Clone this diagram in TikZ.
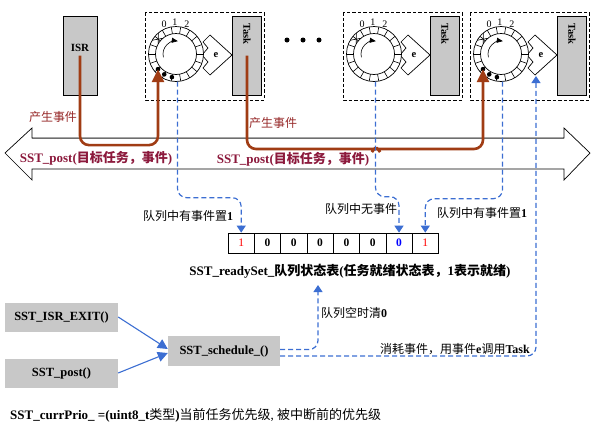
\documentclass[tikz,border=0pt]{standalone}
\usepackage{fontspec}
\setmainfont{Liberation Serif}
\newfontfamily\zh{Noto Sans CJK SC}
\usetikzlibrary{arrows.meta,calc}
\definecolor{boxgray}{RGB}{200,200,200}
\definecolor{rust}{RGB}{160,60,20}
\definecolor{postred}{RGB}{140,25,60}
\definecolor{evred}{RGB}{150,40,40}
\definecolor{dblue}{RGB}{60,110,210}
\definecolor{lgray}{RGB}{110,110,110}
\begin{document}
\begin{tikzpicture}[x=1pt,y=-1pt,
  graybox/.style={fill=boxgray, draw=black, line width=0.6pt, inner sep=0},
  flatbox/.style={fill=boxgray, inner sep=0, minimum width=113pt, minimum height=29pt, font=\fontsize{12.5}{14}\selectfont\bfseries},
  cell/.style={draw, line width=0.7pt, minimum width=26.3pt, minimum height=20pt, inner sep=0, font=\fontsize{11.5}{12}\selectfont\bfseries},
  rustline/.style={draw=rust, line width=2.6pt, rounded corners=9pt, -{Triangle[length=13pt,width=12pt]}},
  bluedash/.style={draw=dblue, line width=1.2pt, dash pattern=on 5pt off 3pt, rounded corners=9pt, -{Triangle[length=7pt,width=9pt]}},
  bluesolid/.style={draw=dblue, line width=1.1pt, -{Triangle[length=10pt,width=10pt]}},
  lbl/.style={font=\fontsize{12}{13}\selectfont, inner sep=0},
  bigtxt/.style={font=\fontsize{13}{14}\selectfont\bfseries, inner sep=0},
]
\useasboundingbox (0,0) rectangle (598,434);

% ISR box
\node[graybox, minimum width=34pt, minimum height=79pt] (isr) at (80,55.5) {};
\node[font=\fontsize{11}{12}\selectfont\bfseries] at (80,48) {ISR};

% ellipsis dots
\fill (287,40) circle[radius=2.5pt];
\fill (303,40) circle[radius=2.5pt];
\fill (319,40) circle[radius=2.5pt];

% three task units
\foreach \i/\x in {1/145,2/343,3/470}{
 \begin{scope}[shift={(\x,0)}]
  \draw[line width=0.7pt, dash pattern=on 3.5pt off 2pt] (0,12) rectangle (119,100);
  \node[graybox, minimum width=29pt, minimum height=79pt] (task\i) at (102,55.5) {};
  \node[rotate=-90, font=\fontsize{10.5}{11}\selectfont\bfseries] at (102,34) {Task};
  % e arrow
  \draw[fill=white, line width=0.7pt] (65,35) -- (87,55) -- (65,75) -- (58,68) -- (63,62) -- (57,55) -- (63,48) -- (58,42) -- cycle;
  \node[font=\fontsize{10.5}{11}\selectfont\bfseries, inner sep=0] at (71,55) {e};
  \coordinate (eb\i) at (66,76);
  \coordinate (rb\i) at (32.5,81.5);
  \begin{scope}[shift={(31,54)}]
   \draw[line width=0.7pt, fill=white] (0,0) circle[radius=27.5pt];
   \draw[line width=0.7pt] (0,0) circle[radius=20.5pt];
   \foreach \a in {0,20,...,340}{
     \draw[line width=0.6pt] (\a:20.5pt) -- (\a:27.5pt);
   }
   \draw[line width=0.6pt] (130:20.5pt) -- (150:27.5pt);
   \draw[line width=0.6pt] (150:20.5pt) -- (130:27.5pt);
   \node[font=\fontsize{10}{10}\selectfont, inner sep=0] at (112:32pt) {0};
   \node[font=\fontsize{10}{10}\selectfont, inner sep=0] at (92:32pt) {1};
   \node[font=\fontsize{10}{10}\selectfont, inner sep=0] at (70:32pt) {2};
   \draw[line width=0.6pt, -{Triangle[length=6pt,width=5pt]}] (195:13pt) arc[start angle=195, end angle=82, radius=13pt];
   \coordinate (dot\i) at (220:23.5pt);
  \end{scope}
 \end{scope}
}
% event dots in queues 1 and 3
\foreach \x in {145,470}{
 \begin{scope}[shift={(\x,0)}]
  \begin{scope}[shift={(31,54)}]
   \fill (220:23.5pt) circle[radius=2.3pt];
   \fill (240:23.5pt) circle[radius=2.3pt];
   \fill (260:23.5pt) circle[radius=2.3pt];
  \end{scope}
 \end{scope}
}

% big double arrow
\draw[line width=0.7pt, fill=white] (5,153) -- (32,128) -- (32,138) -- (564,138) -- (564,128) -- (590,153) -- (564,180) -- (564,169) -- (32,169) -- (32,180) -- cycle;
\draw[line width=0.8pt, lgray] (32,138) -- (564,138);

\node[bigtxt, text=postred] (post1) at (96,158) {SST\_post({\zh 目标任务，事件})};
\node[bigtxt, text=postred] (post2) at (293,159) {SST\_post({\zh 目标任务，事件})};
\node[lbl, text=evred] (ev1) at (53,117) {\zh 产生事件};
\node[lbl, text=evred] (ev2) at (273,123) {\zh 产生事件};

% rust event paths
\draw[rustline] (isr.center) |- ($(dot1)+(0,76)$) -- (dot1);
\draw[rustline] (task1.center) |- (371,149) .. controls (374,149) and (375,146) .. (376,144) .. controls (377,146) and (378,149) .. (381,149) -| (dot3);

% ready set
\node[cell, text=red, font=\fontsize{11.5}{12}\selectfont] (c1) at (241.2,243) {1};
\node[cell] (c2) at (267.5,243) {0};
\node[cell] (c3) at (293.8,243) {0};
\node[cell] (c4) at (320.1,243) {0};
\node[cell] (c5) at (346.4,243) {0};
\node[cell] (c6) at (372.7,243) {0};
\node[cell, text=blue] (c7) at (399.0,243) {0};
\node[cell, text=red, font=\fontsize{11.5}{12}\selectfont] (c8) at (425.3,243) {1};
\node[font=\fontsize{13}{14}\selectfont\bfseries, inner sep=0] (cap) at (350,271) {SST\_readySet\_{\zh 队列状态表}({\zh 任务就绪状态表，}1{\zh 表示就绪})};

% blue dashed connectors
\draw[bluedash] (rb1) |- ([yshift=35pt]c1.north) -- (c1.north);
\draw[bluedash] (rb2) |- ([yshift=36pt]c7.north) -- (c7.north);
\draw[bluedash] (rb3) |- ([yshift=34pt]c8.north) -- (c8.north);
\node[lbl] (l1) at (188,216) {{\zh 队列中有事件置}\textbf{1}};
\node[lbl] (l2) at (361,209) {\zh 队列中无事件};
\node[lbl] (l3) at (482,213) {{\zh 队列中有事件置}\textbf{1}};

% scheduler
\node[flatbox] (isrexit) at (61.5,317) {SST\_ISR\_EXIT()};
\node[flatbox] (post) at (61.5,373) {SST\_post()};
\node[flatbox, minimum width=112pt, minimum height=30pt] (sched) at (224,351) {SST\_schedule\_()};
\draw[bluesolid] (isrexit.east) -- ([yshift=2pt]sched.west);
\draw[bluesolid] (post.east) -- ([yshift=-2pt]sched.west);

\coordinate (clr) at (318,285);
\draw[bluedash] ([yshift=1.5pt]sched.east) -| (clr);
\draw[bluedash] ([yshift=-5pt]sched.east) -| (eb3);
\node[lbl, anchor=west] (l4) at (321,313) {{\zh 队列空时清}\textbf{0}};
\node[lbl, anchor=east] (l5) at (530,349) {{\zh 消耗事件，用事件}\textbf{e}{\zh 调用}\textbf{Task}};

% bottom note
\node[anchor=west, inner sep=0, font=\fontsize{13}{14}\selectfont] (note) at (10,415) {\textbf{SST\_currPrio\_ =(uint8\_t}{\zh 类型}\textbf{)}{\zh 当前任务优先级}, {\zh 被中断前的优先级}};
\end{tikzpicture}
\end{document}
